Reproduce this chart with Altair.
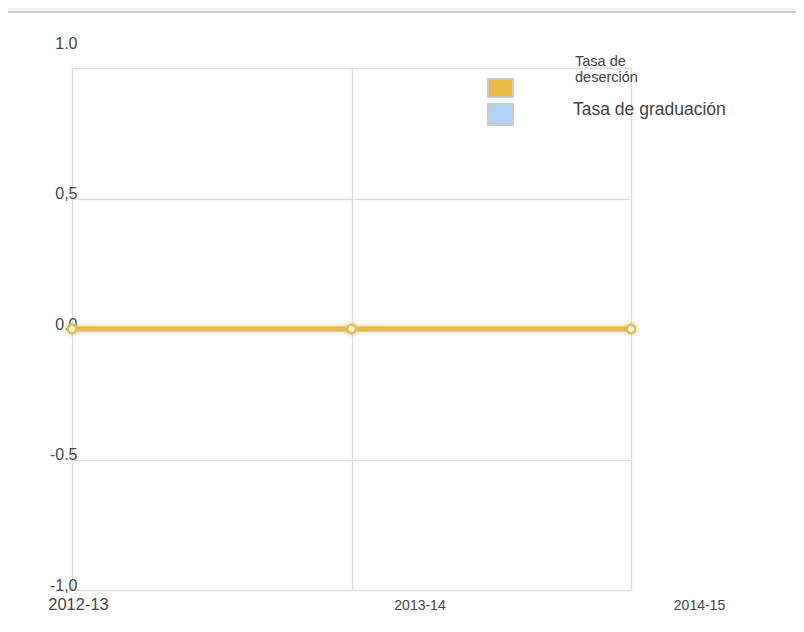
import altair as alt
import pandas as pd

YEARS = ["2012-13", "2013-14", "2014-15"]
SERIES = ["Tasa de deserción", "Tasa de graduación"]
DESERCION = [0.0, 0.0, 0.0]
GRADUACION = [0.0, 0.0, 0.0]
Y_TICKS = [-1.0, -0.5, 0.0, 0.5, 1.0]
Y_TICK_LABELS = ["-1,0", "-0.5", "0.0", "0,5", "1.0"]

GOLD = "#e9bb3e"
BLUE = "#acd5f7"
TEXT = "#444444"
GRID = "#dddddd"
FONT = "Liberation Sans"

rows = []
for s, vals in zip(SERIES, [DESERCION, GRADUACION]):
    for yr, v in zip(YEARS, vals):
        rows.append({"year": yr, "series": s, "value": v})
df = pd.DataFrame(rows)

label_expr = " : ".join(
    [f"datum.value == {v} ? '{t}'" for v, t in zip(Y_TICKS, Y_TICK_LABELS)]
) + " : datum.label"

x_enc = alt.X(
    "year:O",
    sort=YEARS,
    scale=alt.Scale(type="point", padding=0),
    axis=alt.Axis(
        title=None, labelAngle=0, domain=False, ticks=False, tickSize=0,
        grid=True, gridColor=GRID, gridWidth=1.5,
        labelFont=FONT, labelColor=TEXT,
        labelFontSize={"condition": {"test": f"datum.value == '{YEARS[0]}'", "value": 16.5}, "value": 14},
        labelOffset={"condition": {"test": f"datum.value == '{YEARS[0]}'", "value": 6}, "value": 68},
        labelBaseline="alphabetic", labelPadding=19, labelOverlap=False,
    ),
)
y_enc = alt.Y(
    "value:Q",
    scale=alt.Scale(domain=[-1, 1], nice=False, zero=False),
    axis=alt.Axis(
        title=None, values=Y_TICKS, labelExpr=label_expr, domain=False,
        ticks=False, tickSize=0, grid=True, gridColor=GRID, gridWidth=1.5,
        labelFont=FONT, labelColor=TEXT, labelFontSize=16,
        labelAlign="right", labelBaseline="alphabetic", labelPadding=-5,
        labelOffset={"condition": {"test": "datum.value == 1", "value": -20},
                     "value": 0},
        labelOverlap=False, labelFlush=False,
    ),
)

base = alt.Chart(df)


def series_layers(name, color, with_axes):
    b = base.transform_filter(alt.datum.series == name)
    xe = x_enc if with_axes else alt.X("year:O", sort=YEARS, scale=alt.Scale(type="point", padding=0))
    ye = y_enc if with_axes else alt.Y("value:Q", scale=alt.Scale(domain=[-1, 1], nice=False))
    glow = b.mark_line(color=color, strokeWidth=11, opacity=0.12).encode(x=xe, y=ye)
    line = b.mark_line(color=color, strokeWidth=5).encode(x=xe, y=ye)
    pglow = b.mark_point(filled=True, color=color, size=260, opacity=0.12).encode(x=xe, y=ye)
    pts = b.mark_point(filled=True, fill="white", stroke=color, strokeWidth=2.5,
                       size=70, opacity=1).encode(x=xe, y=ye)
    return [glow, line, pglow, pts]


one = alt.Chart(pd.DataFrame({"a": [0]}))

# top strip (page frame)
band = one.mark_rect(color="#f2f2f2").encode(
    x=alt.value(-64), x2=alt.value(724), y=alt.value(-60), y2=alt.value(-57))
band_line = one.mark_rect(color="#cccccc").encode(
    x=alt.value(-64), x2=alt.value(724), y=alt.value(-57), y2=alt.value(-55))

# legend
sw1 = one.mark_rect(fill=GOLD, stroke="#cccccc", strokeWidth=2).encode(
    x=alt.value(416), x2=alt.value(441), y=alt.value(11), y2=alt.value(29))
sw2 = one.mark_rect(fill=BLUE, stroke="#cccccc", strokeWidth=2).encode(
    x=alt.value(416), x2=alt.value(441), y=alt.value(36), y2=alt.value(57))
first, last = SERIES[0].rsplit(" ", 1)
lab1 = one.mark_text(align="left", baseline="alphabetic", font=FONT, fontSize=14.5,
                     color=TEXT, lineBreak="\n", lineHeight=16).encode(
    x=alt.value(503), y=alt.value(-2), text=alt.value(first + "\n" + last))
lab2 = one.mark_text(align="left", baseline="alphabetic", font=FONT, fontSize=17.5,
                     color=TEXT).encode(
    x=alt.value(501), y=alt.value(47), text=alt.value(SERIES[1]))

layers = (series_layers(SERIES[1], BLUE, True)
          + series_layers(SERIES[0], GOLD, False)
          + [band, band_line, sw1, sw2, lab1, lab2])

chart = alt.layer(*layers).properties(
    width=559, height=522,
    autosize=alt.AutoSizeParams(type="none"),
    padding={"left": 64, "top": 60, "right": 165, "bottom": 34},
    background="white",
).configure_view(strokeWidth=0)

chart.save("out.html", embed_options={"renderer": "svg", "actions": False})
